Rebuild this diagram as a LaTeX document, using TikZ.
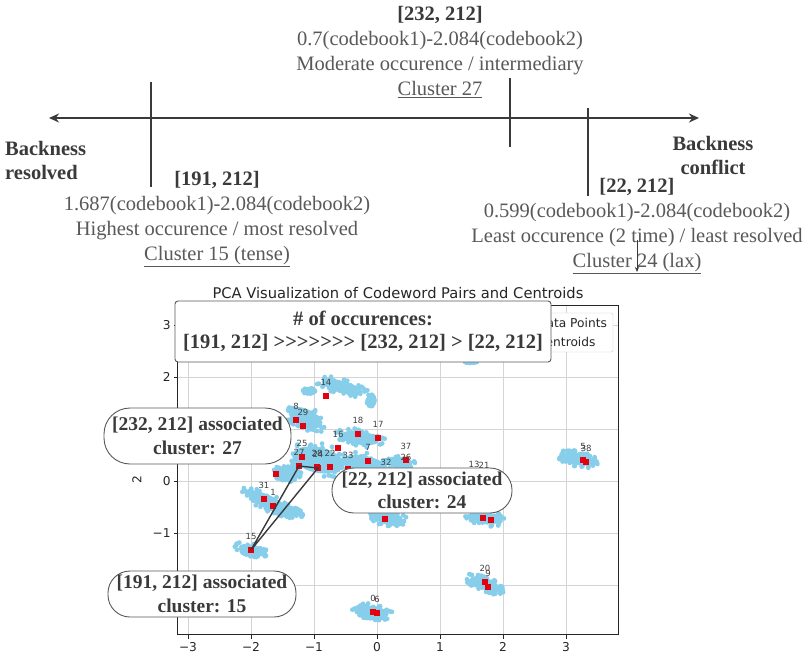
\documentclass[tikz,border=0pt]{standalone}
\usepackage{fontspec}
\setmainfont{Liberation Serif}
\newfontfamily\plotfont{DejaVu Sans}
\usetikzlibrary{arrows.meta,positioning}
\definecolor{softink}{HTML}{595959}
\definecolor{darkink}{HTML}{3A3A3A}
\definecolor{skyblob}{HTML}{87CEEB}
\definecolor{gridgray}{HTML}{D4D4D4}
\definecolor{centred}{HTML}{E3000F}

\begin{document}
\begin{tikzpicture}[x=1pt,y=-1pt,
  txt/.style={font=\fontsize{20.5}{25}\selectfont,text=softink,align=center,inner sep=0pt},
  keytxt/.style={font=\fontsize{20.5}{24.5}\selectfont\bfseries,text=darkink,align=center,inner sep=0pt},
  tickbar/.style={draw=darkink,line width=1.3pt},
  gridline/.style={draw=gridgray,line width=0.8pt},
  spine/.style={draw=black!85,line width=0.9pt},
  blob/.style={fill=skyblob},
  centroid/.style={fill=centred,minimum size=5.5pt,inner sep=0pt},
  clabel/.style={font=\plotfont\fontsize{8.5}{9}\selectfont,text=black!75,inner sep=0pt},
  ticklabel/.style={font=\plotfont\fontsize{12.2}{13}\selectfont,text=black!85,inner sep=0pt},
  pill/.style={draw=softink,line width=0.9pt,fill=white,rounded corners=22pt,align=center,
    font=\fontsize{19.5}{23.5}\selectfont\bfseries,text=darkink,inner sep=0pt}]

\fill[white] (0,0) rectangle (809,661);
\useasboundingbox (0,0) rectangle (809,661);

% backness axis
\coordinate (resolved) at (49,118);
\coordinate (conflict) at (699,118);
\draw[darkink,line width=1.8pt,{Stealth[length=10pt,width=9pt]}-{Stealth[length=10pt,width=9pt]}] (resolved) -- (conflict);
\foreach \x/\a/\b in {151/82/187, 510/78/147, 588/108/196}
  \draw[tickbar] (\x,\a) -- (\x,\b);

\node[txt,anchor=north] (pair27) at (440,6) {\textcolor{darkink}{\bfseries [232, 212]}\\ 0.7(codebook1)-2.084(codebook2)\\ Moderate occurence / intermediary\\ \underline{Cluster 27}};
\node[txt,anchor=north] (pair15) at (217,171) {\textcolor{darkink}{\bfseries [191, 212]}\\ 1.687(codebook1)-2.084(codebook2)\\ Highest occurence / most resolved\\ \underline{Cluster 15 (tense)}};
\node[txt,anchor=north] (pair24) at (637,178) {\textcolor{darkink}{\bfseries [22, 212]}\\ 0.599(codebook1)-2.084(codebook2)\\ Least occurence (2 time) / least resolved\\ \underline{Cluster 24 (lax)}};
\node[keytxt,anchor=north west,align=left] (leftend) at (5,141) {Backness\\ resolved};
\node[keytxt,anchor=north] (rightend) at (713,136) {Backness\\ conflict};

\coordinate (drop) at (637,240);
\coordinate (droptip) at (637,272);
\draw[darkink,line width=0.6pt,-{Stealth[length=5pt,width=4pt]}] (drop) -- (droptip);

% pca plot, data coordinates
\begin{scope}[shift={(377,481)},x=63pt,y=52pt]
  \foreach \v in {-3,...,3} \draw[gridline] (\v,-2.96) -- (\v,3.385);
  \foreach \v in {-2,...,3} \draw[gridline] (-3.16,\v) -- (3.825,\v);

  \pgfmathsetseed{42}
  \foreach \bx/\by/\rx/\ry/\ang in {-0.556/1.808/28/8/-15, -1.08/1.73/6/3/0, -1.143/1.212/23/12/-25,
      -0.27/0.827/26/9/-8, -0.937/0.404/35/17/-12, -0.19/0.308/31/12/-12, -1.42/0.15/15/9/-10,
      0.38/0.36/14/7/-5, -1.73/-0.404/29/9/-25, -1.381/-0.596/14/6/-10, -1.984/-1.327/18/7/-14,
      0.175/-0.712/20/8/-8, 1.714/-0.712/20/8/-8, 3.19/0.423/21/8/-12, -0.063/-2.519/21/8/-10,
      1.714/-1.98/21/8/-20, 1.49/2.29/6/1/0, -0.1/1.55/4/6/0}{
    \fill[blob,rotate around={\ang:(\bx,\by)}] (\bx,\by) ellipse [x radius={0.75*\rx*1pt}, y radius={0.75*\ry*1pt}];
    \foreach \k in {1,...,55}{
      \pgfmathsetmacro\ta{360*rnd}
      \pgfmathsetmacro\ra{sqrt(rnd)}
      \fill[blob] (\bx,\by) ++(\ang:{\rx*\ra*cos(\ta)*1pt}) ++(\ang+90:{\ry*\ra*sin(\ta)*1pt}) circle [radius=2.4pt];
    }
  }

  \foreach \cx/\cy/\nm in {-0.810/1.635/14, -1.286/1.173/8, -1.175/1.058/29, -0.619/0.635/16,
      -0.302/0.904/18, 0.016/0.827/17, -1.190/0.462/25, -1.238/0.288/27, -0.952/0.269/28,
      -0.937/0.25/24, -0.746/0.269/22, -0.46/0.23/33, -0.143/0.385/7, 0.46/0.404/37, 0.46/0.19/26,
      0.143/0.096/32, 1.54/0.058/13, 1.70/0.04/21, -1.794/-0.346/31, -1.651/-0.481/1, -2.0/-1.327/15,
      3.27/0.404/5, 3.32/0.365/38, -0.063/-2.519/0, 0.0/-2.538/6, 1.714/-1.942/20, 1.762/-2.038/9}{
    \node[centroid] (c\nm) at (\cx,\cy) {};
    \node[clabel,above=7pt of c\nm] (l\nm) {\nm};
  }
  \foreach \cx/\cy/\nm in {-1.603/0.135/a, 0.127/-0.731/b, 1.683/-0.712/c, 1.81/-0.75/d}
    \node[centroid] (u\nm) at (\cx,\cy) {};

  \draw[darkink,line width=1.4pt] (c15.center) -- (c27.center) -- (c24.center) -- cycle;

  \draw[spine] (-3.16,-2.96) rectangle (3.825,3.385);
  \foreach \v/\t [count=\i] in {-3/−3,-2/−2,-1/−1,0/0,1/1,2/2,3/3}{
    \draw[spine] (\v,-2.96) -- ++(0,-4pt);
    \node[ticklabel,below=7pt] (xt\i) at (\v,-2.96) {\t};
  }
  \foreach \v/\t [count=\i] in {-2/−2,-1/−1,0/0,1/1,2/2,3/3}{
    \draw[spine] (-3.16,\v) -- ++(-4pt,0);
    \node[ticklabel,left=7pt] (yt\i) at (-3.16,\v) {\t};
  }
  \node[ticklabel,rotate=90] (ylab) at (-3.81,0.03) {2};
  \node[font=\plotfont\fontsize{14.7}{16}\selectfont,text=black!85,inner sep=0pt,above=6pt] (title) at (0.333,3.385)
    {PCA Visualization of Codeword Pairs and Centroids};

  % legend
  \draw[draw=black!20,fill=white,rounded corners=2pt] (2.032,3.231) rectangle (3.746,2.481);
  \fill[skyblob] (2.25,3.04) circle [radius=3pt];
  \node[centroid] (legsq) at (2.25,2.67) {};
  \node[ticklabel,anchor=west] (legdata) at (2.54,3.04) {Data Points};
  \node[ticklabel,anchor=west] (legcent) at (2.54,2.67) {Centroids};
\end{scope}

% notes on top of the plot
\node[draw=softink,line width=0.9pt,fill=white,rounded corners=3pt,minimum width=376pt,minimum height=61pt,
  align=center,font=\fontsize{20.5}{23}\selectfont\bfseries,text=darkink,inner sep=0pt] (occur) at (363,331.5)
  {\# of occurences:\\{}[191, 212] >{}>{}>{}>{}>{}>{}> [232, 212] > [22, 212]};
\node[pill,rounded corners=26pt,minimum width=187pt,minimum height=56pt] (note27) at (197.5,436) {[232, 212] associated\\ cluster: 27};
\node[pill,minimum width=180pt,minimum height=45pt] (note24) at (422,490.5) {[22, 212] associated\\ cluster: 24};
\node[pill,minimum width=188pt,minimum height=46pt] (note15) at (202,594) {[191, 212] associated\\ cluster: 15};
\end{tikzpicture}
\end{document}
